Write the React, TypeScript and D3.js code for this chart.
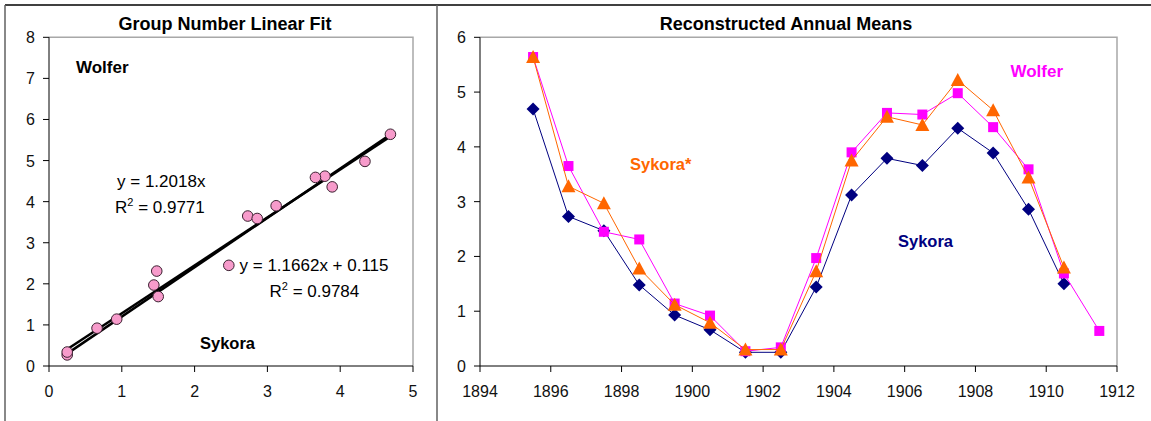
import React from "react";
import * as d3 from "d3";

// ---- data ----
const years = [1895.5, 1896.5, 1897.5, 1898.5, 1899.5, 1900.5, 1901.5, 1902.5, 1903.5, 1904.5, 1905.5, 1906.5, 1907.5, 1908.5, 1909.5, 1910.5, 1911.5];
const sykora = [4.69, 2.73, 2.47, 1.48, 0.93, 0.66, 0.25, 0.25, 1.44, 3.12, 3.79, 3.66, 4.34, 3.89, 2.86, 1.5];
const sykoraStar = [5.64, 3.28, 2.97, 1.78, 1.12, 0.79, 0.3, 0.3, 1.73, 3.75, 4.55, 4.4, 5.22, 4.67, 3.44, 1.8];
const wolfer = [5.64, 3.65, 2.45, 2.31, 1.14, 0.92, 0.27, 0.34, 1.97, 3.9, 4.62, 4.59, 4.98, 4.36, 3.59, 1.69, 0.64];
const leftXTicks = [0, 1, 2, 3, 4, 5];
const leftYTicks = [0, 1, 2, 3, 4, 5, 6, 7, 8];
const rightXTicks = [1894, 1896, 1898, 1900, 1902, 1904, 1906, 1908, 1910, 1912];
const rightYTicks = [0, 1, 2, 3, 4, 5, 6];
const fitOrigin = { slope: 1.2018, intercept: 0, r2: "0.9771" };
const fitLinear = { slope: 1.1662, intercept: 0.115, r2: "0.9784" };

const FONT = "'Liberation Sans', Arial, sans-serif";

export default function App() {
  const xL = d3.scaleLinear().domain([0, 5]).range([49, 413]);
  const yL = d3.scaleLinear().domain([0, 8]).range([366, 37.3]);
  const xR = d3.scaleLinear().domain([1894, 1912]).range([480, 1117]);
  const yR = d3.scaleLinear().domain([0, 6]).range([366, 37.3]);

  const scatter = sykora.map((s, i) => [s, wolfer[i]] as [number, number]);
  const ext = d3.extent(sykora) as [number, number];

  const mkFit = (f: { slope: number; intercept: number }) =>
    d3.line<number>().x((x) => xL(x)).y((x) => yL(f.slope * x + f.intercept))(ext) || "";

  const lineR = (vals: number[]) =>
    d3.line<number>().x((_, i) => xR(years[i])).y((v) => yR(v))(vals) || "";

  const tickTxt = { fontFamily: FONT, fontSize: 16, fill: "#111" } as const;

  return (
    <svg width={1151} height={421} style={{ position: "absolute", left: 0, top: 0, background: "#fff" }}>
      <rect x={0} y={0} width={1151} height={421} fill="#fff" />
      {/* outer frame */}
      <line x1={5} y1={5} x2={1151} y2={5} stroke="#404040" strokeWidth={2} />
      <line x1={5} y1={5} x2={5} y2={421} stroke="#606060" strokeWidth={1.5} />
      <line x1={437} y1={5} x2={437} y2={421} stroke="#606060" strokeWidth={1.5} />

      {/* ---------- LEFT ---------- */}
      <text x={225} y={30} textAnchor="middle" fontFamily={FONT} fontWeight="bold" fontSize={18}>
        Group Number Linear Fit
      </text>
      <path d={`M${xL(0)},${yL(8)}H${xL(5)}V${yL(0)}`} fill="none" stroke="#a8a8a8" strokeWidth={1.5} />
      <line x1={xL(0)} y1={yL(0)} x2={xL(5)} y2={yL(0)} stroke="#000" />
      <line x1={xL(0)} y1={yL(0)} x2={xL(0)} y2={yL(8)} stroke="#000" />
      {leftYTicks.map((t) => (
        <g key={"ly" + t}>
          <line x1={xL(0) - 6} x2={xL(0)} y1={yL(t)} y2={yL(t)} stroke="#000" />
          <text x={xL(0) - 14} y={yL(t) + 6} textAnchor="end" {...tickTxt}>{t}</text>
        </g>
      ))}
      {leftXTicks.map((t) => (
        <g key={"lx" + t}>
          <line x1={xL(t)} x2={xL(t)} y1={yL(0)} y2={yL(0) + 6} stroke="#000" />
          <text x={xL(t)} y={397} textAnchor="middle" {...tickTxt}>{t}</text>
        </g>
      ))}
      <path d={mkFit(fitOrigin)} stroke="#000" strokeWidth={2.5} fill="none" />
      <path d={mkFit(fitLinear)} stroke="#000" strokeWidth={2.5} fill="none" />
      {scatter.map(([x, y], i) => (
        <circle key={"c" + i} cx={xL(x)} cy={yL(y)} r={5.3} fill="#F79BCB" stroke="#3a2030" strokeWidth={1} />
      ))}
      <text x={76} y={72.5} fontFamily={FONT} fontWeight="bold" fontSize={17}>Wolfer</text>
      <text x={200} y={349} fontFamily={FONT} fontWeight="bold" fontSize={16.5}>Sykora</text>
      <text x={117} y={187} fontFamily={FONT} fontSize={17}>y = {fitOrigin.slope}x</text>
      <text x={115} y={212.5} fontFamily={FONT} fontSize={17}>
        R<tspan dy={-7} fontSize={11}>2</tspan><tspan dy={7}> = {fitOrigin.r2}</tspan>
      </text>
      <text x={239.5} y={271} fontFamily={FONT} fontSize={17}>y = {fitLinear.slope}x + {fitLinear.intercept}</text>
      <text x={269.5} y={297} fontFamily={FONT} fontSize={17}>
        R<tspan dy={-7} fontSize={11}>2</tspan><tspan dy={7}> = {fitLinear.r2}</tspan>
      </text>

      {/* ---------- RIGHT ---------- */}
      <text x={786} y={30} textAnchor="middle" fontFamily={FONT} fontWeight="bold" fontSize={18}>
        Reconstructed Annual Means
      </text>
      <path d={`M${xR(1894)},${yR(6)}H${xR(1912)}V${yR(0)}`} fill="none" stroke="#a8a8a8" strokeWidth={1.5} />
      <line x1={xR(1894)} y1={yR(0)} x2={xR(1912)} y2={yR(0)} stroke="#000" />
      <line x1={xR(1894)} y1={yR(0)} x2={xR(1894)} y2={yR(6)} stroke="#000" />
      {rightYTicks.map((t) => (
        <g key={"ry" + t}>
          <line x1={xR(1894) - 6} x2={xR(1894)} y1={yR(t)} y2={yR(t)} stroke="#000" />
          <text x={xR(1894) - 14} y={yR(t) + 6} textAnchor="end" {...tickTxt}>{t}</text>
        </g>
      ))}
      {rightXTicks.map((t) => (
        <g key={"rx" + t}>
          <line x1={xR(t)} x2={xR(t)} y1={yR(0)} y2={yR(0) + 6} stroke="#000" />
          <text x={xR(t)} y={397} textAnchor="middle" {...tickTxt}>{t}</text>
        </g>
      ))}

      {/* Sykora */}
      <path d={lineR(sykora)} fill="none" stroke="#000080" strokeWidth={1} />
      {sykora.map((v, i) => {
        const cx = xR(years[i]);
        const cy = yR(v);
        return <path key={"d" + i} d={`M${cx},${cy - 6.5}L${cx + 6.5},${cy}L${cx},${cy + 6.5}L${cx - 6.5},${cy}Z`} fill="#000080" />;
      })}
      {/* Wolfer */}
      <path d={lineR(wolfer)} fill="none" stroke="#FF00FF" strokeWidth={1} />
      {wolfer.map((v, i) => (
        <rect key={"s" + i} x={xR(years[i]) - 5} y={yR(v) - 5} width={10} height={10} fill="#FF00FF" />
      ))}
      {/* Sykora* */}
      <path d={lineR(sykoraStar)} fill="none" stroke="#FF6600" strokeWidth={1} />
      {sykoraStar.map((v, i) => {
        const cx = xR(years[i]);
        const cy = yR(v);
        return <path key={"t" + i} d={`M${cx},${cy - 7}L${cx + 7},${cy + 6}L${cx - 7},${cy + 6}Z`} fill="#FF6600" />;
      })}

      <text x={630} y={170} fontFamily={FONT} fontWeight="bold" fontSize={16.5} fill="#FF6600">Sykora*</text>
      <text x={1010.5} y={77} fontFamily={FONT} fontWeight="bold" fontSize={17} fill="#FF00FF">Wolfer</text>
      <text x={898} y={247} fontFamily={FONT} fontWeight="bold" fontSize={16.5} fill="#000080">Sykora</text>
    </svg>
  );
}
